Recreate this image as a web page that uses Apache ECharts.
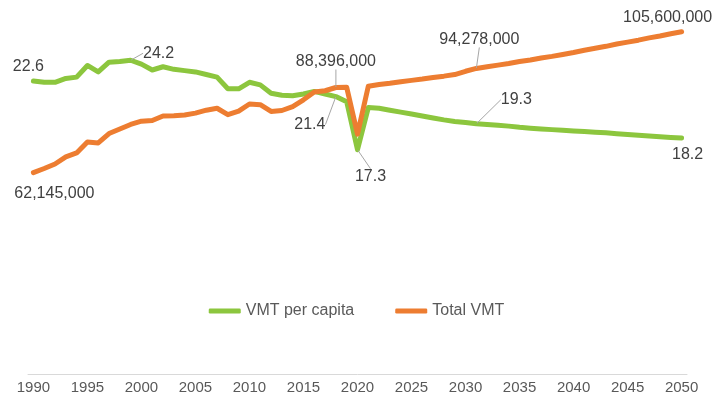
<!DOCTYPE html>
<html>
<head>
<meta charset="utf-8">
<script src="https://cdn.jsdelivr.net/npm/echarts@6/dist/echarts.min.js"></script>
<style>
html,body{margin:0;padding:0;background:#fff;}
#c{width:713px;height:401px;}
</style>
</head>
<body>
<div id="c"></div>
<script>
var years = [];
for (var yr = 1990; yr <= 2050; yr++) years.push(String(yr));

var vmtPerCapita = [
  22.6, 22.5, 22.5, 22.8, 22.9, 23.8, 23.3, 24.05, 24.1, 24.2,
  23.9, 23.45, 23.7, 23.5, 23.4, 23.3, 23.1, 22.9, 22.0, 22.0,
  22.5, 22.3, 21.65, 21.5, 21.47, 21.6, 21.8, 21.6, 21.4, 21.0,
  17.3, 20.55, 20.5, 20.35, 20.2, 20.05, 19.9, 19.75, 19.6, 19.48,
  19.4, 19.3, 19.25, 19.18, 19.12, 19.03, 18.96, 18.9, 18.85, 18.8,
  18.75, 18.7, 18.65, 18.6, 18.53, 18.47, 18.42, 18.36, 18.3, 18.25,
  18.2
];

var totalVMT = [
  62145000, 63400000, 64800000, 67000000, 68200000, 71600000, 71300000, 74200000, 75600000, 77000000,
  78000000, 78200000, 79600000, 79700000, 79900000, 80500000, 81400000, 82000000, 80000000, 81100000,
  83300000, 83100000, 81000000, 81300000, 82500000, 84600000, 87000000, 87400000, 88396000, 88450000,
  74000000, 88800000, 89300000, 89700000, 90200000, 90600000, 91000000, 91500000, 91900000, 92400000,
  93400000, 94278000, 94800000, 95300000, 95800000, 96400000, 96900000, 97500000, 98000000, 98600000,
  99200000, 99900000, 100500000, 101100000, 101800000, 102400000, 103000000, 103700000, 104300000, 105000000,
  105600000
];

var seriesNames = ['VMT per capita', 'Total VMT'];
var labeledPerCapita = [0, 9, 28, 30, 41, 60];
var labeledTotal = [0, 28, 41, 60];

// label placement offsets (label centre relative to point), style only
var perCapitaOffsets = {0:[-5,-14], 9:[28,-7], 28:[-26,28], 30:[13,27], 41:[40,-24], 60:[6,17]};
var totalOffsets = {0:[21,21], 28:[0,-26], 41:[3,-29], 60:[-14,-14]};
var leaderPerCapita = {9:true, 28:true, 30:true, 41:true};
var leaderTotal = {28:true, 41:true};

var FONT = '"Liberation Sans", Arial, sans-serif';
var GREEN = '#8cc63e';
var ORANGE = '#ed7d31';

function buildData(values, labeled, leaders) {
  return values.map(function (v, i) {
    if (labeled.indexOf(i) >= 0) {
      return {
        value: v,
        label: { show: true },
        labelLine: { show: !!leaders[i] }
      };
    }
    return v;
  });
}

function fmtInt(v) {
  return String(Math.round(v)).replace(/\B(?=(\d{3})+(?!\d))/g, ',');
}

var labelBase = {
  position: 'inside',
  fontFamily: FONT,
  fontSize: 16,
  color: '#404040'
};

var chart = echarts.init(document.getElementById('c'), null, { renderer: 'canvas' });
chart.setOption({
  animation: false,
  backgroundColor: '#ffffff',
  grid: { left: 28, right: 26, top: 11, bottom: 27, containLabel: false },
  legend: {
    data: seriesNames,
    top: 298,
    left: 'center',
    icon: 'roundRect',
    itemWidth: 32,
    itemHeight: 5,
    itemGap: 41,
    textStyle: { fontFamily: FONT, fontSize: 16, color: '#595959' }
  },
  xAxis: {
    type: 'category',
    data: years,
    boundaryGap: true,
    axisLine: { show: true, lineStyle: { color: '#d9d9d9', width: 1 } },
    axisTick: { show: false },
    axisLabel: { interval: 4, fontFamily: FONT, fontSize: 15, color: '#595959', margin: 6 },
    splitLine: { show: false }
  },
  yAxis: [
    { type: 'value', min: 0, max: 28, show: false, splitLine: { show: false } },
    { type: 'value', min: 0, max: 112000000, show: false, splitLine: { show: false } }
  ],
  series: [
    {
      name: seriesNames[0],
      type: 'line',
      yAxisIndex: 0,
      data: buildData(vmtPerCapita, labeledPerCapita, leaderPerCapita),
      symbol: 'circle',
      symbolSize: 1,
      showSymbol: true,
      clip: false,
      lineStyle: { color: GREEN, width: 5, cap: 'round', join: 'round' },
      itemStyle: { color: GREEN },
      label: Object.assign({ show: false, formatter: function (p) { return p.value.toFixed(1); } }, labelBase),
      labelLine: { show: false, lineStyle: { color: '#a6a6a6', width: 1 } },
      labelLayout: function (p) {
        var o = perCapitaOffsets[p.dataIndex];
        return o ? { dx: o[0], dy: o[1], hideOverlap: false } : {};
      },
      emphasis: { disabled: true },
      z: 2
    },
    {
      name: seriesNames[1],
      type: 'line',
      yAxisIndex: 1,
      data: buildData(totalVMT, labeledTotal, leaderTotal),
      symbol: 'circle',
      symbolSize: 1,
      showSymbol: true,
      clip: false,
      lineStyle: { color: ORANGE, width: 5, cap: 'round', join: 'round' },
      itemStyle: { color: ORANGE },
      label: Object.assign({ show: false, formatter: function (p) { return fmtInt(p.value); } }, labelBase),
      labelLine: { show: false, lineStyle: { color: '#a6a6a6', width: 1 } },
      labelLayout: function (p) {
        var o = totalOffsets[p.dataIndex];
        return o ? { dx: o[0], dy: o[1], hideOverlap: false } : {};
      },
      emphasis: { disabled: true },
      z: 3
    }
  ]
});
</script>
</body>
</html>
